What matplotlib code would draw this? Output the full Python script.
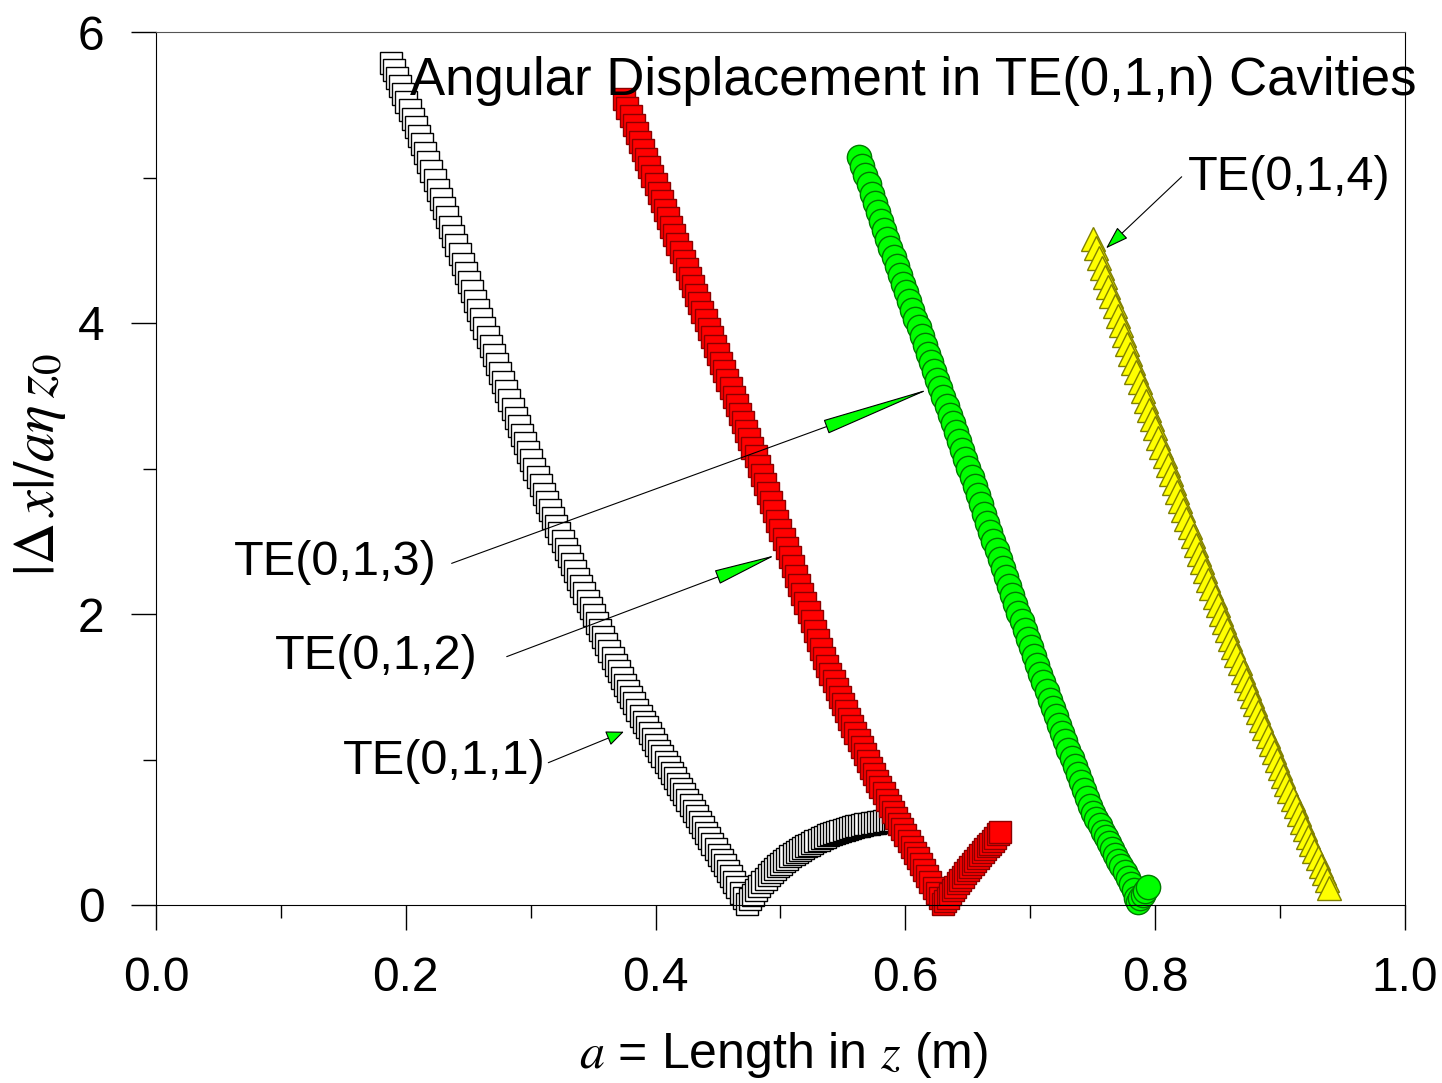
import matplotlib
matplotlib.use('Agg')
import matplotlib.pyplot as plt
from matplotlib.patches import FancyArrowPatch

plt.rcParams['font.family'] = ['Liberation Sans', 'DejaVu Sans']
plt.rcParams['mathtext.fontset'] = 'stix'

# TE(0,1,1): cavity length a (m) and |dx|/(a eta z0)
te011_a = [0.188, 0.1905, 0.193, 0.1955, 0.198, 0.2005, 0.203, 0.2055, 0.208, 0.2105,
           0.213, 0.2155, 0.218, 0.2205, 0.223, 0.2255, 0.228, 0.2305, 0.233, 0.2355,
           0.238, 0.2405, 0.243, 0.2455, 0.248, 0.2505, 0.253, 0.2555, 0.258, 0.2605,
           0.263, 0.2655, 0.268, 0.2705, 0.273, 0.2755, 0.278, 0.2805, 0.283, 0.2855,
           0.288, 0.2905, 0.293, 0.2955, 0.298, 0.3005, 0.303, 0.3055, 0.308, 0.3105,
           0.313, 0.3155, 0.318, 0.3205, 0.323, 0.3255, 0.328, 0.3305, 0.333, 0.3355,
           0.338, 0.3405, 0.343, 0.3455, 0.348, 0.3505, 0.353, 0.3555, 0.358, 0.3605,
           0.363, 0.3655, 0.368, 0.3705, 0.373, 0.3755, 0.378, 0.3805, 0.383, 0.3855,
           0.388, 0.3905, 0.393, 0.3955, 0.398, 0.4005, 0.403, 0.4055, 0.408, 0.4105,
           0.413, 0.4155, 0.418, 0.4205, 0.423, 0.4255, 0.428, 0.4305, 0.433, 0.4355,
           0.438, 0.4405, 0.443, 0.4455, 0.448, 0.4505, 0.453, 0.4555, 0.458, 0.4605,
           0.463, 0.4655, 0.468, 0.4705, 0.473,
           0.4755, 0.478, 0.4805, 0.483, 0.4855, 0.488, 0.4905, 0.493, 0.4955, 0.498,
           0.5005, 0.503, 0.5055, 0.508, 0.5105, 0.513, 0.5155, 0.518, 0.5205, 0.523,
           0.5255, 0.528, 0.5305, 0.533, 0.5355, 0.538, 0.5405, 0.543, 0.5455, 0.548,
           0.5505, 0.553, 0.5555, 0.558, 0.5605, 0.563, 0.5655, 0.568, 0.5705, 0.573,
           0.5755, 0.578, 0.5805, 0.583, 0.5855, 0.588, 0.590, 0.592]
te011_d = [5.79, 5.737, 5.685, 5.63, 5.576, 5.52, 5.463, 5.405, 5.347, 5.287,
           5.227, 5.166, 5.104, 5.042, 4.980, 4.917, 4.854, 4.79, 4.727, 4.663,
           4.599, 4.535, 4.472, 4.408, 4.344, 4.28, 4.217, 4.154, 4.091, 4.028,
           3.965, 3.902, 3.840, 3.778, 3.716, 3.654, 3.593, 3.532, 3.471, 3.41,
           3.350, 3.29, 3.231, 3.172, 3.114, 3.056, 2.998, 2.941, 2.884, 2.828,
           2.772, 2.717, 2.662, 2.608, 2.554, 2.501, 2.448, 2.396, 2.344, 2.293,
           2.242, 2.192, 2.142, 2.091, 2.040, 1.99, 1.940, 1.891, 1.842, 1.794,
           1.746, 1.699, 1.652, 1.606, 1.560, 1.515, 1.470, 1.427, 1.385, 1.342,
           1.30, 1.26, 1.22, 1.18, 1.14, 1.10, 1.06, 1.022, 0.985, 0.947,
           0.91, 0.872, 0.835, 0.797, 0.76, 0.722, 0.685, 0.647, 0.61, 0.572,
           0.535, 0.497, 0.46, 0.422, 0.385, 0.347, 0.31, 0.272, 0.235, 0.197,
           0.16, 0.122, 0.085, 0.047, 0.01,
           0.04, 0.07, 0.10, 0.13, 0.155, 0.18, 0.203, 0.225, 0.245, 0.265,
           0.283, 0.30, 0.318, 0.335, 0.35, 0.365, 0.378, 0.39, 0.403, 0.415,
           0.428, 0.44, 0.45, 0.46, 0.47, 0.48, 0.488, 0.495, 0.503, 0.51,
           0.518, 0.525, 0.53, 0.535, 0.54, 0.545, 0.55, 0.555, 0.559, 0.563,
           0.567, 0.57, 0.573, 0.576, 0.579, 0.581, 0.583, 0.585]

# TE(0,1,2)
te012_a = [0.375, 0.3775, 0.380, 0.3825, 0.385, 0.3875, 0.390, 0.3925, 0.395, 0.3975,
           0.400, 0.4025, 0.405, 0.4075, 0.410, 0.4125, 0.415, 0.4175, 0.420, 0.4225,
           0.425, 0.4275, 0.430, 0.4325, 0.435, 0.4375, 0.440, 0.4425, 0.445, 0.4475,
           0.450, 0.4525, 0.455, 0.4575, 0.460, 0.4625, 0.465, 0.4675, 0.470, 0.4725,
           0.475, 0.4775, 0.480, 0.4825, 0.485, 0.4875, 0.490, 0.4925, 0.495, 0.4975,
           0.500, 0.5025, 0.505, 0.5075, 0.510, 0.5125, 0.515, 0.5175, 0.520, 0.5225,
           0.525, 0.5275, 0.530, 0.5325, 0.535, 0.5375, 0.540, 0.5425, 0.545, 0.5475,
           0.550, 0.5525, 0.555, 0.5575, 0.560, 0.5625, 0.565, 0.5675, 0.570, 0.5725,
           0.575, 0.5775, 0.580, 0.5825, 0.585, 0.5875, 0.590, 0.5925, 0.595, 0.5975,
           0.600, 0.6025, 0.605, 0.6075, 0.610, 0.6125, 0.615, 0.6175, 0.620, 0.6225,
           0.625, 0.6275, 0.630,
           0.632, 0.634, 0.636, 0.638, 0.640, 0.642, 0.644, 0.646, 0.648, 0.650,
           0.652, 0.654, 0.656, 0.658, 0.660, 0.662, 0.664, 0.666, 0.668, 0.670,
           0.672, 0.674, 0.676]
te012_d = [5.54, 5.481, 5.423, 5.364, 5.306, 5.247, 5.189, 5.13, 5.072, 5.013,
           4.955, 4.896, 4.838, 4.779, 4.721, 4.662, 4.604, 4.545, 4.487, 4.428,
           4.370, 4.311, 4.253, 4.194, 4.136, 4.077, 4.019, 3.96, 3.902, 3.843,
           3.785, 3.726, 3.668, 3.609, 3.551, 3.492, 3.434, 3.375, 3.317, 3.258,
           3.20, 3.141, 3.083, 3.02, 2.957, 2.894, 2.831, 2.768, 2.705, 2.642,
           2.579, 2.516, 2.453, 2.39, 2.327, 2.264, 2.201, 2.138, 2.075, 2.012,
           1.949, 1.886, 1.823, 1.76, 1.697, 1.643, 1.59, 1.537, 1.485, 1.432,
           1.38, 1.33, 1.28, 1.23, 1.18, 1.132, 1.085, 1.037, 0.99, 0.945,
           0.90, 0.855, 0.81, 0.767, 0.725, 0.682, 0.64, 0.60, 0.56, 0.52,
           0.48, 0.44, 0.40, 0.36, 0.32, 0.28, 0.24, 0.20, 0.16, 0.12,
           0.08, 0.045, 0.01,
           0.025, 0.05, 0.075, 0.10, 0.125, 0.15, 0.172, 0.195, 0.218, 0.24,
           0.262, 0.285, 0.305, 0.325, 0.345, 0.365, 0.385, 0.405, 0.422, 0.44,
           0.46, 0.485, 0.505]

# TE(0,1,3)
te013_a = [0.563, 0.5655, 0.568, 0.5705, 0.573, 0.5755, 0.578, 0.5805, 0.583, 0.5855,
           0.588, 0.5905, 0.593, 0.5955, 0.598, 0.6005, 0.603, 0.6055, 0.608, 0.6105,
           0.613, 0.6155, 0.618, 0.6205, 0.623, 0.6255, 0.628, 0.6305, 0.633, 0.6355,
           0.638, 0.6405, 0.643, 0.6455, 0.648, 0.6505, 0.653, 0.6555, 0.658, 0.6605,
           0.663, 0.6655, 0.668, 0.6705, 0.673, 0.6755, 0.678, 0.6805, 0.683, 0.6855,
           0.688, 0.6905, 0.693, 0.6955, 0.698, 0.7005, 0.703, 0.7055, 0.708, 0.7105,
           0.713, 0.7155, 0.718, 0.7205, 0.723, 0.7255, 0.728, 0.7305, 0.733, 0.7355,
           0.738, 0.7405, 0.743, 0.7455, 0.748, 0.7505, 0.753, 0.7555, 0.758, 0.7605,
           0.763, 0.7655, 0.768, 0.7705, 0.773, 0.7755, 0.778, 0.7805, 0.783,
           0.785, 0.786, 0.788, 0.790, 0.792, 0.794]
te013_d = [5.14, 5.078, 5.015, 4.953, 4.89, 4.828, 4.765, 4.703, 4.64, 4.578,
           4.515, 4.453, 4.39, 4.33, 4.27, 4.21, 4.15, 4.09, 4.03, 3.97,
           3.91, 3.85, 3.79, 3.73, 3.67, 3.61, 3.55, 3.49, 3.43, 3.37,
           3.31, 3.25, 3.19, 3.128, 3.065, 3.003, 2.94, 2.878, 2.815, 2.753,
           2.69, 2.628, 2.565, 2.503, 2.44, 2.378, 2.315, 2.253, 2.19, 2.13,
           2.07, 2.01, 1.95, 1.89, 1.83, 1.77, 1.71, 1.65, 1.59, 1.53,
           1.47, 1.412, 1.355, 1.298, 1.24, 1.182, 1.125, 1.068, 1.01, 0.955,
           0.90, 0.845, 0.79, 0.735, 0.68, 0.635, 0.59, 0.548, 0.505, 0.465,
           0.425, 0.385, 0.345, 0.305, 0.265, 0.225, 0.185, 0.143, 0.10,
           0.045, 0.02, 0.045, 0.07, 0.095, 0.125]

# TE(0,1,4)
te014_a = [0.750, 0.7525, 0.755, 0.7575, 0.760, 0.7625, 0.765, 0.7675, 0.770, 0.7725,
           0.775, 0.7775, 0.780, 0.7825, 0.785, 0.7875, 0.790, 0.7925, 0.795, 0.7975,
           0.800, 0.8025, 0.805, 0.8075, 0.810, 0.8125, 0.815, 0.8175, 0.820, 0.8225,
           0.825, 0.8275, 0.830, 0.8325, 0.835, 0.8375, 0.840, 0.8425, 0.845, 0.8475,
           0.850, 0.8525, 0.855, 0.8575, 0.860, 0.8625, 0.865, 0.8675, 0.870, 0.8725,
           0.875, 0.8775, 0.880, 0.8825, 0.885, 0.8875, 0.890, 0.8925, 0.895, 0.8975,
           0.900, 0.9025, 0.905, 0.9075, 0.910, 0.9125, 0.915, 0.9175, 0.920, 0.9225,
           0.925, 0.9275, 0.930, 0.9325, 0.935, 0.9375, 0.9395]
te014_d = [4.58, 4.513, 4.447, 4.381, 4.315, 4.249, 4.183, 4.117, 4.051, 3.985,
           3.92, 3.855, 3.79, 3.725, 3.66, 3.595, 3.531, 3.467, 3.403, 3.34,
           3.276, 3.213, 3.15, 3.087, 3.025, 2.963, 2.901, 2.84, 2.778, 2.717,
           2.656, 2.595, 2.535, 2.475, 2.415, 2.355, 2.296, 2.237, 2.178, 2.12,
           2.061, 2.003, 1.945, 1.887, 1.83, 1.773, 1.716, 1.66, 1.603, 1.547,
           1.491, 1.435, 1.38, 1.325, 1.27, 1.215, 1.161, 1.105, 1.05, 0.995,
           0.94, 0.888, 0.835, 0.783, 0.73, 0.678, 0.625, 0.573, 0.52, 0.47,
           0.42, 0.37, 0.32, 0.27, 0.22, 0.17, 0.12]

x_ticks = [0.0, 0.2, 0.4, 0.6, 0.8, 1.0]
x_ticklabels = ['0.0', '0.2', '0.4', '0.6', '0.8', '1.0']
y_ticks = [0, 2, 4, 6]
y_ticklabels = ['0', '2', '4', '6']

# label text, text anchor, arrow start, arrow tip
labels = ['TE(0,1,1)', 'TE(0,1,2)', 'TE(0,1,3)', 'TE(0,1,4)']
label_pos = [(0.3123, 0.900), (0.2578, 1.622), (0.2250, 2.268), (0.8263, 4.914)]
label_ha = ['right', 'right', 'right', 'left']
arrow_from = [(0.3141, 0.978), (0.2808, 1.707), (0.2367, 2.348), (0.8212, 5.005)]
arrow_to = [(0.3746, 1.191), (0.4962, 2.405), (0.6209, 3.551), (0.7606, 4.513)]
head_len = [11, 41, 74, 14.5]

fig = plt.figure(figsize=(14.42, 10.83), dpi=100)
ax = fig.add_axes([156 / 1442, 178 / 1083, 1249 / 1442, 873 / 1083])

styles = [
    dict(marker='s', ms=16.5, mfc='white', mec='black'),
    dict(marker='s', ms=16.5, mfc='#FF0000', mec='#8B0000'),
    dict(marker='o', ms=17.5, mfc='#00FF00', mec='#007A00'),
    dict(marker='^', ms=17.5, mfc='#FFFF00', mec='#808000'),
]
for a, d, st in zip([te011_a, te012_a, te013_a, te014_a],
                    [te011_d, te012_d, te013_d, te014_d], styles):
    ax.plot(a, d, ls='none', mew=1.0, clip_on=False, **st)

ax.set_xlim(0, 1.0)
ax.set_ylim(0, 6)
ax.set_xticks(x_ticks)
ax.set_xticklabels(x_ticklabels)
ax.set_xticks([0.1, 0.3, 0.5, 0.7, 0.9], minor=True)
ax.set_yticks(y_ticks)
ax.set_yticklabels(y_ticklabels)
ax.set_yticks([1, 3, 5], minor=True)
ax.tick_params(which='major', direction='out', length=18, width=1.0,
               labelsize=34.5, pad=19)
ax.tick_params(which='minor', direction='out', length=9.5, width=1.0)
ax.spines['top'].set_color('#555555')

for i in range(4):
    ax.add_patch(FancyArrowPatch(
        arrow_from[i], arrow_to[i],
        arrowstyle='-|>,head_length=%g,head_width=4.7' % head_len[i],
        mutation_scale=1, fc='#00FF00', ec='black', lw=0.8,
        shrinkA=0, shrinkB=0, zorder=5, clip_on=False))
    ax.text(label_pos[i][0], label_pos[i][1], labels[i], fontsize=35,
            ha=label_ha[i], va='baseline')

fig.text(410 / 1442, 1 - 95 / 1083, 'Angular Displacement in TE(0,1,n) Cavities',
         fontsize=38, ha='left', va='baseline')
fig.text(783 / 1442, 1 - 1055 / 1083, r'$a$ = Length in $z$ (m)',
         fontsize=36, ha='center', va='center')
fig.text(40 / 1442, 1 - 465 / 1083, r'$|\Delta\,x|/a\eta\,z_0$',
         fontsize=42, rotation=90, ha='center', va='center')

fig.savefig('out.png', dpi=100)
